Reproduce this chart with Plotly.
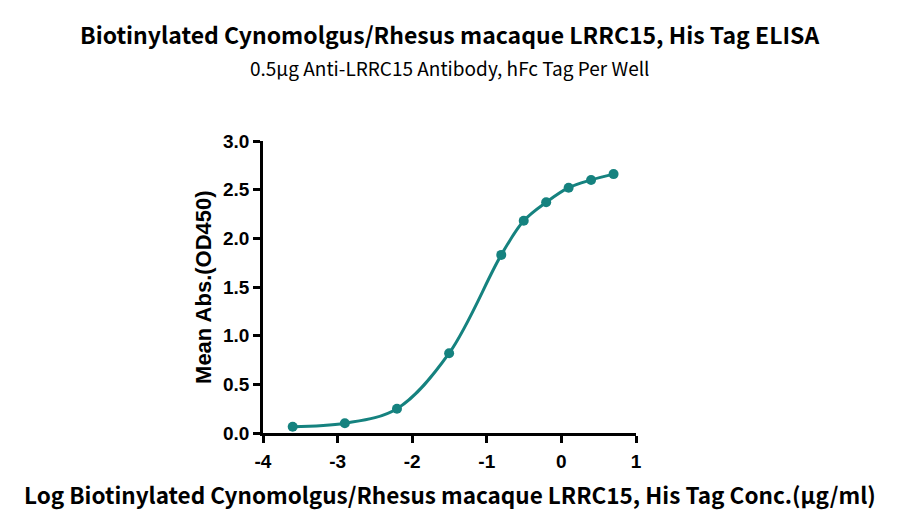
import plotly.graph_objects as go

# Log concentration (ug/ml) and mean OD450
log_conc = [-3.602, -2.903, -2.204, -1.505, -0.806, -0.505, -0.204, 0.097, 0.398, 0.699]
mean_abs = [0.065, 0.10, 0.25, 0.82, 1.83, 2.18, 2.37, 2.52, 2.60, 2.66]

x_ticks = [-4, -3, -2, -1, 0, 1]
y_ticks = [0.0, 0.5, 1.0, 1.5, 2.0, 2.5, 3.0]

TEAL = "#15827f"
TITLE_FONT = "Noto Sans CJK SC"
AXIS_FONT = "Liberation Sans"

fig = go.Figure()
fig.add_trace(
    go.Scatter(
        x=log_conc, y=mean_abs,
        mode="lines+markers",
        line=dict(color=TEAL, width=3, shape="spline", smoothing=1.0),
        marker=dict(color=TEAL, size=10),
        cliponaxis=False,
        showlegend=False,
    )
)

axis_common = dict(
    showgrid=False, zeroline=False,
    showline=True, linecolor="black", linewidth=2.5,
    ticks="outside", ticklen=7, tickwidth=2.5, tickcolor="black",
    tickfont=dict(family=AXIS_FONT, size=19, color="black", weight="bold"),
)

fig.update_xaxes(
    range=[-4, 1], tickvals=x_ticks, ticktext=[str(v) for v in x_ticks],
    ticklabelstandoff=2,
    **axis_common,
)
fig.update_yaxes(
    range=[0, 3], tickvals=y_ticks, ticktext=[f"{v:.1f}" for v in y_ticks],
    **axis_common,
)

fig.add_annotation(
    text="<b>Biotinylated Cynomolgus/Rhesus macaque LRRC15, His Tag ELISA</b>",
    xref="paper", yref="paper", x=0.501, y=1.366,
    xanchor="center", yanchor="middle", showarrow=False,
    font=dict(family=TITLE_FONT, size=23, color="black"),
)
fig.add_annotation(
    text="0.5μg Anti-LRRC15 Antibody, hFc Tag Per Well",
    xref="paper", yref="paper", x=0.501, y=1.253,
    xanchor="center", yanchor="middle", showarrow=False,
    font=dict(family=TITLE_FONT, size=19, color="black"),
)
fig.add_annotation(
    text="<b>Log Biotinylated Cynomolgus/Rhesus macaque LRRC15, His Tag Conc.(μg/ml)</b>",
    xref="paper", yref="paper", x=0.501, y=-0.209,
    xanchor="center", yanchor="middle", showarrow=False,
    font=dict(family=TITLE_FONT, size=22.5, color="black"),
)
fig.add_annotation(
    text="<b>Mean Abs.(OD450)</b>",
    xref="paper", yref="paper", x=-0.161, y=0.5,
    xanchor="center", yanchor="middle", showarrow=False, textangle=-90,
    font=dict(family=AXIS_FONT, size=22, color="black"),
)

# page body adds 8px, so margins are shifted to keep the plot area in place
fig.update_layout(
    width=900, height=530,
    margin=dict(l=255, r=272, t=133, b=105),
    plot_bgcolor="white", paper_bgcolor="white",
)

fig.write_html("out.html")
